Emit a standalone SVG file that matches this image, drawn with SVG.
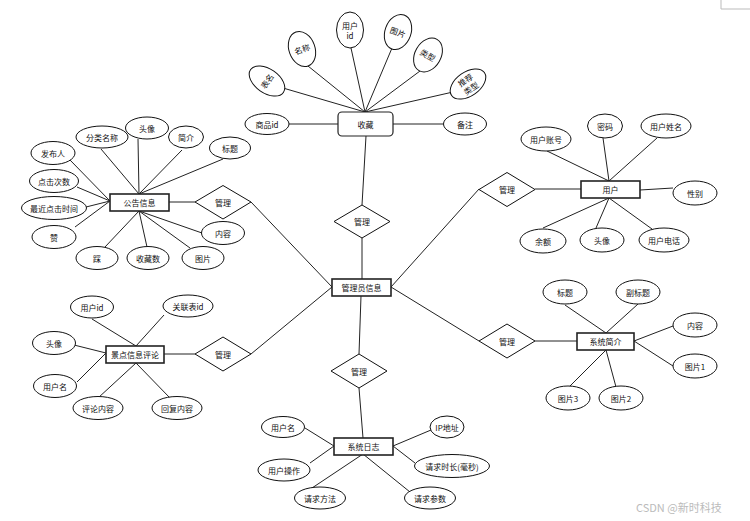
<svg xmlns="http://www.w3.org/2000/svg" width="750" height="521" viewBox="0 0 750 521">
<style>
.e{fill:#fff;stroke:#111;stroke-width:1}
.b{fill:#fff;stroke:#222;stroke-width:1.6}
.d{fill:#fff;stroke:#111;stroke-width:1}
.l{stroke:#222;stroke-width:1;fill:none}
text{font-family:"Noto Sans CJK SC","Liberation Sans",sans-serif;font-size:8px;fill:#111;text-anchor:middle;dominant-baseline:central}
.wm{font-size:11px;fill:#bbb;text-anchor:start}
</style>
<rect width="750" height="521" fill="#fff"/>
<path d="M721,0 V9 H750" stroke="#bbb" stroke-width="1" fill="none"/>
<g id="connectors" class="l">
<line x1="251" y1="202" x2="332" y2="287"/>
<line x1="251" y1="354" x2="332" y2="287"/>
<line x1="362" y1="238" x2="362" y2="279"/>
<line x1="362" y1="205" x2="366" y2="136"/>
<line x1="359" y1="354" x2="361" y2="296"/>
<line x1="359" y1="388" x2="363" y2="438"/>
<line x1="391" y1="287" x2="479" y2="189"/>
<line x1="391" y1="287" x2="479" y2="341"/>
<line x1="289" y1="124" x2="338" y2="124"/>
<line x1="393" y1="124" x2="443" y2="124"/>
<line x1="365" y1="112" x2="283" y2="88"/>
<line x1="365" y1="112" x2="308" y2="66"/>
<line x1="365" y1="112" x2="351" y2="48"/>
<line x1="365" y1="112" x2="392" y2="48"/>
<line x1="365" y1="112" x2="420" y2="71"/>
<line x1="365" y1="112" x2="453" y2="92"/>
<line x1="535" y1="189" x2="581" y2="189"/>
<line x1="609" y1="181" x2="547" y2="151"/>
<line x1="609" y1="181" x2="603" y2="138"/>
<line x1="609" y1="181" x2="657" y2="138"/>
<line x1="640" y1="190" x2="673" y2="188"/>
<line x1="609" y1="198" x2="543" y2="228"/>
<line x1="609" y1="198" x2="596" y2="228"/>
<line x1="609" y1="198" x2="652" y2="229"/>
<line x1="169" y1="202" x2="195" y2="202"/>
<line x1="139" y1="194" x2="101" y2="149"/>
<line x1="139" y1="194" x2="138" y2="139"/>
<line x1="139" y1="194" x2="182" y2="150"/>
<line x1="139" y1="194" x2="223" y2="159"/>
<line x1="110" y1="201" x2="70" y2="160"/>
<line x1="110" y1="201" x2="77" y2="187"/>
<line x1="110" y1="201" x2="86" y2="207"/>
<line x1="110" y1="201" x2="75" y2="227"/>
<line x1="139" y1="211" x2="105" y2="247"/>
<line x1="139" y1="211" x2="147" y2="247"/>
<line x1="139" y1="211" x2="190" y2="248"/>
<line x1="139" y1="211" x2="202" y2="233"/>
<line x1="164" y1="354" x2="195" y2="354"/>
<line x1="136" y1="346" x2="92" y2="319"/>
<line x1="136" y1="346" x2="164" y2="315"/>
<line x1="106" y1="353" x2="74" y2="345"/>
<line x1="106" y1="353" x2="77" y2="382"/>
<line x1="136" y1="363" x2="98" y2="398"/>
<line x1="136" y1="363" x2="170" y2="398"/>
<line x1="535" y1="341" x2="577" y2="341"/>
<line x1="606" y1="333" x2="565" y2="305"/>
<line x1="606" y1="333" x2="638" y2="304"/>
<line x1="634" y1="341" x2="673" y2="326"/>
<line x1="634" y1="341" x2="673" y2="366"/>
<line x1="606" y1="350" x2="568" y2="388"/>
<line x1="606" y1="350" x2="616" y2="387"/>
<line x1="334" y1="446" x2="305" y2="428"/>
<line x1="334" y1="446" x2="310" y2="463"/>
<line x1="393" y1="446" x2="431" y2="430"/>
<line x1="393" y1="446" x2="415" y2="463"/>
<line x1="363" y1="454" x2="312" y2="488"/>
<line x1="363" y1="454" x2="410" y2="492"/>
</g>

<g id="admin"><rect class="b" x="332" y="279" width="59" height="17"/><text x="361.5" y="287.5">管理员信息</text></g>
<g id="rel-top"><polygon class="d" points="362,205 390,221.5 362,238 334,221.5"/><text x="362" y="221.5">管理</text></g>
<g id="rel-bottom"><polygon class="d" points="359,354 387,371 359,388 331,371"/><text x="359" y="371">管理</text></g>
<g id="rel-left-top"><polygon class="d" points="223,185.5 251,202 223,219 195,202"/><text x="223" y="202">管理</text></g>
<g id="rel-left-bottom"><polygon class="d" points="223,337 251,354 223,371 195,354"/><text x="223" y="354">管理</text></g>
<g id="rel-right-top"><polygon class="d" points="507,172.5 535,189.5 507,206.5 479,189.5"/><text x="507" y="189.5">管理</text></g>
<g id="rel-right-bottom"><polygon class="d" points="507,324 535,341 507,358 479,341"/><text x="507" y="341">管理</text></g>

<g id="favorite">
<rect class="b" x="338" y="112" width="55" height="24" rx="4" style="stroke-width:1.2"/><text x="365.5" y="124">收藏</text>
</g>
<g id="fav-attrs">
<g id="fav-goodsid"><ellipse class="e" cx="267" cy="124" rx="22" ry="10.5"/><text x="267" y="124">商品id</text></g>
<g id="fav-remark"><ellipse class="e" cx="465" cy="124" rx="21.5" ry="11"/><text x="465" y="124">备注</text></g>
<g id="fav-table" transform="translate(267,81) rotate(-55)"><ellipse class="e" cx="0" cy="0" rx="12" ry="20"/><text x="0" y="0">表名</text></g>
<g id="fav-name" transform="translate(302,49) rotate(-20)"><ellipse class="e" cx="0" cy="0" rx="13" ry="18"/><text x="0" y="0">名称</text></g>
<g id="fav-userid"><ellipse class="e" cx="350" cy="30" rx="13.5" ry="18"/><text x="350" y="25">用户</text><text x="350" y="35">id</text></g>
<g id="fav-pic" transform="translate(398,32) rotate(20)"><ellipse class="e" cx="0" cy="0" rx="13" ry="18"/><text x="0" y="0">图片</text></g>
<g id="fav-type" transform="translate(428,55) rotate(30)"><ellipse class="e" cx="0" cy="0" rx="13" ry="18"/><text x="0" y="0">类型</text></g>
<g id="fav-rectype" transform="translate(468,84) rotate(-35)"><ellipse class="e" cx="0" cy="0" rx="20" ry="12"/><text x="0" y="-5">推荐</text><text x="0" y="5">类型</text></g>
</g>

<g id="user"><rect class="b" x="581" y="181" width="59" height="17"/><text x="610.5" y="189.5">用户</text></g>
<g id="user-account"><ellipse class="e" cx="546" cy="139" rx="25" ry="12"/><text x="546" y="139">用户账号</text></g>
<g id="user-pwd"><ellipse class="e" cx="605" cy="126" rx="17.5" ry="12"/><text x="605" y="126">密码</text></g>
<g id="user-name"><ellipse class="e" cx="666" cy="126" rx="25" ry="12"/><text x="666" y="126">用户姓名</text></g>
<g id="user-sex"><ellipse class="e" cx="695" cy="193" rx="22" ry="12"/><text x="695" y="193">性别</text></g>
<g id="user-balance"><ellipse class="e" cx="543" cy="241" rx="23" ry="12"/><text x="543" y="241">余额</text></g>
<g id="user-avatar"><ellipse class="e" cx="602" cy="240" rx="22" ry="12"/><text x="602" y="240">头像</text></g>
<g id="user-phone"><ellipse class="e" cx="664" cy="240" rx="25" ry="12"/><text x="664" y="240">用户电话</text></g>

<g id="notice"><rect class="b" x="110" y="194" width="59" height="17"/><text x="139.5" y="202.5">公告信息</text></g>
<g id="n-cat"><ellipse class="e" cx="102" cy="137" rx="26" ry="11"/><text x="102" y="137">分类名称</text></g>
<g id="n-avatar"><ellipse class="e" cx="147" cy="128" rx="21.5" ry="11"/><text x="147" y="128">头像</text></g>
<g id="n-intro"><ellipse class="e" cx="186" cy="137" rx="17.5" ry="11"/><text x="186" y="137">简介</text></g>
<g id="n-title"><ellipse class="e" cx="230" cy="148" rx="20.5" ry="11"/><text x="230" y="148">标题</text></g>
<g id="n-pub"><ellipse class="e" cx="53" cy="153" rx="22" ry="11.5"/><text x="53" y="153">发布人</text></g>
<g id="n-clicks"><ellipse class="e" cx="54" cy="181" rx="24.5" ry="11.5"/><text x="54" y="181">点击次数</text></g>
<g id="n-lastclick"><ellipse class="e" cx="54" cy="208" rx="32.5" ry="11.5"/><text x="54" y="208">最近点击时间</text></g>
<g id="n-like"><ellipse class="e" cx="54" cy="237" rx="22" ry="11.5"/><text x="54" y="237">赞</text></g>
<g id="n-dislike"><ellipse class="e" cx="97" cy="258" rx="21" ry="11.5"/><text x="97" y="258">踩</text></g>
<g id="n-favs"><ellipse class="e" cx="148" cy="258" rx="21" ry="11.5"/><text x="148" y="258">收藏数</text></g>
<g id="n-pic"><ellipse class="e" cx="203" cy="258" rx="21" ry="11.5"/><text x="203" y="258">图片</text></g>
<g id="n-content"><ellipse class="e" cx="223" cy="233" rx="21.5" ry="11.5"/><text x="223" y="233">内容</text></g>

<g id="comment"><rect class="b" x="106" y="346" width="58" height="17"/><text x="135" y="354.5">景点信息评论</text></g>
<g id="c-userid"><ellipse class="e" cx="92" cy="307" rx="21.5" ry="11"/><text x="92" y="307">用户id</text></g>
<g id="c-refid"><ellipse class="e" cx="188" cy="306" rx="25" ry="11"/><text x="188" y="306">关联表id</text></g>
<g id="c-avatar"><ellipse class="e" cx="54" cy="343" rx="21.5" ry="11.5"/><text x="54" y="343">头像</text></g>
<g id="c-username"><ellipse class="e" cx="55" cy="386" rx="21.5" ry="11.5"/><text x="55" y="386">用户名</text></g>
<g id="c-content"><ellipse class="e" cx="98" cy="408" rx="25" ry="11.5"/><text x="98" y="408">评论内容</text></g>
<g id="c-reply"><ellipse class="e" cx="177" cy="408" rx="25" ry="11.5"/><text x="177" y="408">回复内容</text></g>

<g id="sysintro"><rect class="b" x="577" y="333" width="57" height="17"/><text x="605.5" y="341.5">系统简介</text></g>
<g id="s-title"><ellipse class="e" cx="565" cy="292" rx="22" ry="12"/><text x="565" y="292">标题</text></g>
<g id="s-subtitle"><ellipse class="e" cx="638" cy="292" rx="22" ry="12"/><text x="638" y="292">副标题</text></g>
<g id="s-content"><ellipse class="e" cx="695" cy="325" rx="22" ry="12"/><text x="695" y="325">内容</text></g>
<g id="s-pic1"><ellipse class="e" cx="695" cy="366" rx="22" ry="12"/><text x="695" y="366">图片1</text></g>
<g id="s-pic3"><ellipse class="e" cx="568" cy="398" rx="22" ry="12"/><text x="568" y="398">图片3</text></g>
<g id="s-pic2"><ellipse class="e" cx="621" cy="398" rx="22" ry="12"/><text x="621" y="398">图片2</text></g>

<g id="syslog"><rect class="b" x="334" y="438" width="59" height="17"/><text x="363.5" y="446.5">系统日志</text></g>
<g id="l-username"><ellipse class="e" cx="283" cy="427" rx="21.5" ry="10.5"/><text x="283" y="427">用户名</text></g>
<g id="l-op"><ellipse class="e" cx="284" cy="470" rx="26" ry="11"/><text x="284" y="470">用户操作</text></g>
<g id="l-method"><ellipse class="e" cx="320" cy="498" rx="25.5" ry="11"/><text x="320" y="498">请求方法</text></g>
<g id="l-params"><ellipse class="e" cx="430" cy="498" rx="25.5" ry="11"/><text x="430" y="498">请求参数</text></g>
<g id="l-duration"><ellipse class="e" cx="452" cy="466" rx="37.5" ry="11.5"/><text x="452" y="466">请求时长(毫秒)</text></g>
<g id="l-ip"><ellipse class="e" cx="447" cy="427" rx="17" ry="11"/><text x="447" y="427">IP地址</text></g>

<text class="wm" x="636" y="507">CSDN @新时科技</text>
</svg>
